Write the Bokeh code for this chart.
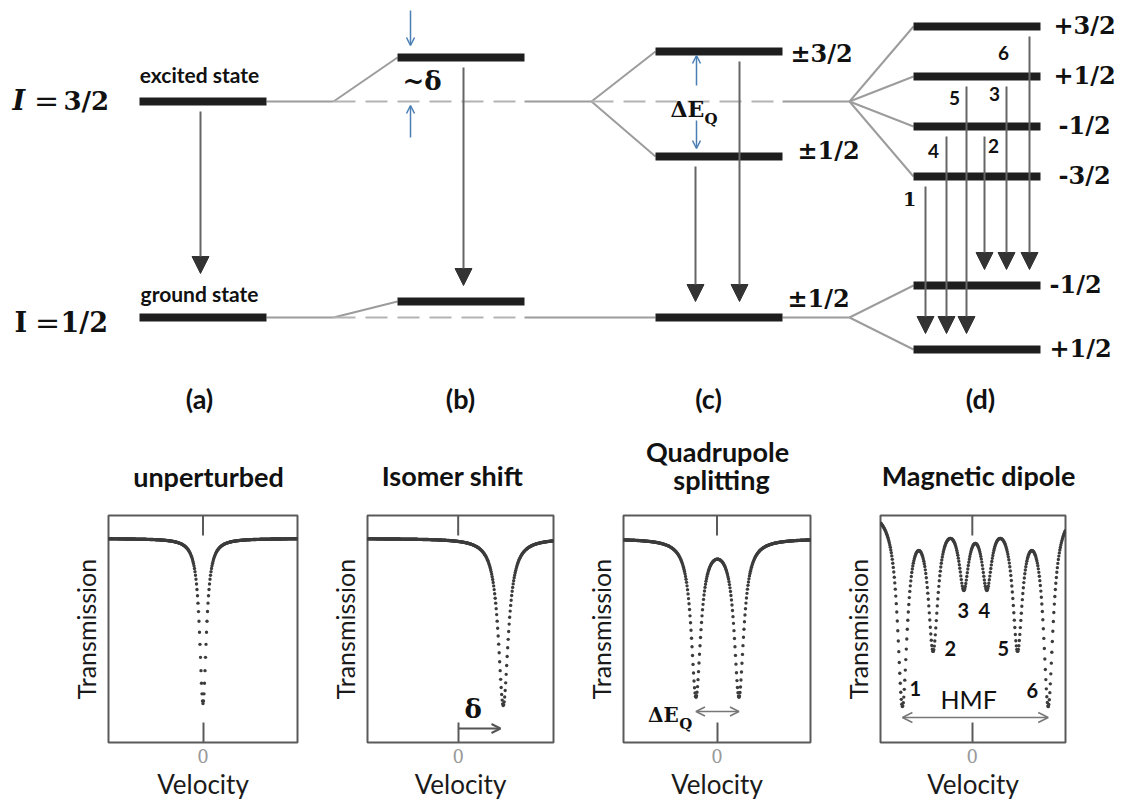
import numpy as np
from bokeh.plotting import figure
from bokeh.layouts import column, row
from bokeh.models import Range1d, Arrow, NormalHead, OpenHead, ColumnDataSource, FixedTicker
from bokeh.core.properties import value
from bokeh.embed import file_html
from bokeh.resources import INLINE

# ---------------- energy levels (diagram units, unsplit ground state = 0) ----------------
E_GROUND = 0
E_EXCITED = 216
isomer_shift_excited = 44
isomer_shift_ground = 16
quad_excited = [50, -55]                 # m = ±3/2, ±1/2
quad_labels = ["±3/2", "±1/2"]
zeeman_excited = [75, 25, -25, -75]      # m = +3/2, +1/2, -1/2, -3/2
zeeman_excited_labels = ["+3/2", "+1/2", "-1/2", "-3/2"]
zeeman_ground = [32, -32]                # m = -1/2, +1/2
zeeman_ground_labels = ["-1/2", "+1/2"]

# magnetic transitions: line number, upper sublevel index, lower sublevel index
mag_lines = ["1", "4", "5", "2", "3", "6"]
mag_upper = [3, 2, 1, 2, 1, 0]
mag_lower = [1, 1, 1, 0, 0, 0]

# ---------------- Mössbauer spectra: line centre (mm/s), depth, FWHM (mm/s) ----------------
single_pos, single_depth, single_fwhm = [0.0], [0.165], [0.34]
isomer_pos, isomer_depth, isomer_fwhm = [1.94], [0.167], [0.52]
quad_pos, quad_depth, quad_fwhm = [-0.90, 0.94], [0.156, 0.156], [0.49, 0.49]
sextet_pos = [-5.10, -2.86, -0.62, 1.06, 3.30, 5.54]
sextet_depth = [0.193, 0.133, 0.070, 0.070, 0.133, 0.193]
sextet_fwhm = [0.85] * 6

panel_titles = ["unperturbed", "Isomer shift", "Quadrupole\nsplitting", "Magnetic dipole"]
column_tags = ["(a)", "(b)", "(c)", "(d)"]

# ---------------- styles ----------------
BAR = "#1e1e1e"
CONN = "#9c9c9c"
DASH = "#b4b4b4"
ARROW_LINE = "#666666"
HEAD = "#333333"
BLUE = "#4a7fb5"
SANS = "Lato"
SERIF = "DejaVu Serif"


def put_text(fig, xs, ys, texts, font=SANS, size="20px", style="bold",
             align="center", baseline="middle", color="#111111"):
    fig.text(x=xs, y=ys, text=texts, text_font=value(font), text_font_size=value(size),
             text_font_style=value(style), text_align=value(align),
             text_baseline=value(baseline), text_color=color)


# ======================= energy level diagram =======================
top = figure(width=1121, height=500, x_range=Range1d(0, 1121), y_range=Range1d(-183, 317),
             output_backend="svg", toolbar_location=None, x_axis_location=None,
             y_axis_location=None, min_border=0, outline_line_color=None)
top.grid.visible = False

COL_LEFT = [139, 397, 655, 913]
BAR_W = 127
FAN = 67
col_right = [c + BAR_W for c in COL_LEFT]
split = [r + FAN for r in col_right[:3]]        # fan-out points before columns b, c, d

# level bars
bx0, bx1, by = [], [], []
def add_bar(col, e):
    bx0.append(COL_LEFT[col]); bx1.append(col_right[col]); by.append(e)

add_bar(0, E_EXCITED); add_bar(0, E_GROUND)
add_bar(1, E_EXCITED + isomer_shift_excited); add_bar(1, E_GROUND + isomer_shift_ground)
for q in quad_excited:
    add_bar(2, E_EXCITED + q)
add_bar(2, E_GROUND)
for z in zeeman_excited:
    add_bar(3, E_EXCITED + z)
for z in zeeman_ground:
    add_bar(3, E_GROUND + z)

# thin connectors (solid)
cx0, cy0, cx1, cy1 = [], [], [], []
def conn(x0, y0, x1, y1):
    cx0.append(x0); cy0.append(y0); cx1.append(x1); cy1.append(y1)

for e in (E_EXCITED, E_GROUND):
    conn(col_right[0], e, split[0], e)
conn(split[0], E_EXCITED, COL_LEFT[1], E_EXCITED + isomer_shift_excited)
conn(split[0], E_GROUND, COL_LEFT[1], E_GROUND + isomer_shift_ground)
conn(col_right[1], E_EXCITED, split[1], E_EXCITED)
for q in quad_excited:
    conn(split[1], E_EXCITED, COL_LEFT[2], E_EXCITED + q)
conn(col_right[1], E_GROUND, COL_LEFT[2], E_GROUND)
for e in (E_EXCITED, E_GROUND):
    conn(col_right[2], e, split[2], e)
for z in zeeman_excited:
    conn(split[2], E_EXCITED, COL_LEFT[3], E_EXCITED + z)
for z in zeeman_ground:
    conn(split[2], E_GROUND, COL_LEFT[3], E_GROUND + z)

top.segment(x0=cx0, y0=cy0, x1=cx1, y1=cy1, line_color=CONN, line_width=2)
# dashed references to the unperturbed levels
top.segment(x0=[split[0], split[0], split[1]], y0=[E_EXCITED, E_GROUND, E_EXCITED],
            x1=[col_right[1], col_right[1], col_right[2]], y1=[E_EXCITED, E_GROUND, E_EXCITED],
            line_color=DASH, line_width=2, line_dash="22 10")
top.segment(x0=bx0, y0=by, x1=bx1, y1=by, line_color=BAR, line_width=8)

# gamma transitions
START_GAP, TIP_GAP = 10, 16
ax, ay0, ay1 = [], [], []
def transition(x, upper, lower, tip_gap=TIP_GAP):
    ax.append(x); ay0.append(upper - START_GAP); ay1.append(lower + tip_gap)

transition(COL_LEFT[0] + 61, E_EXCITED, E_GROUND, tip_gap=44)
transition(COL_LEFT[1] + 66, E_EXCITED + isomer_shift_excited, E_GROUND + isomer_shift_ground)
transition(COL_LEFT[2] + 40, E_EXCITED + quad_excited[1], E_GROUND)
transition(COL_LEFT[2] + 84, E_EXCITED + quad_excited[0], E_GROUND)
mag_x = [COL_LEFT[3] + d for d in (12, 33, 53, 71, 93, 116)]
for x, u, l in zip(mag_x, mag_upper, mag_lower):
    transition(x, E_EXCITED + zeeman_excited[u], E_GROUND + zeeman_ground[l])

top.add_layout(Arrow(end=NormalHead(size=17, fill_color=HEAD, line_color=HEAD),
                     source=ColumnDataSource(dict(x0=ax, y0=ay0, x1=ax, y1=ay1)),
                     x_start="x0", y_start="y0", x_end="x1", y_end="y1",
                     line_color=ARROW_LINE, line_width=2))

# blue markers for the isomer shift and the quadrupole splitting
eb = E_EXCITED + isomer_shift_excited
blue = dict(x0=[410, 410, 696, 696],
            y0=[eb + 47, E_EXCITED - 36, E_EXCITED + 16, E_EXCITED - 19],
            x1=[410, 410, 696, 696],
            y1=[eb + 12, E_EXCITED - 4, E_EXCITED + quad_excited[0] - 4, E_EXCITED + quad_excited[1] + 8])
top.add_layout(Arrow(end=OpenHead(size=8, line_color=BLUE, line_width=1.5),
                     source=ColumnDataSource(blue), x_start="x0", y_start="y0",
                     x_end="x1", y_end="y1", line_color=BLUE, line_width=1.5))

# spin labels on the left
put_text(top, [12], [E_EXCITED + 1], ["I"], font=SERIF, size="27px", style="bold italic", align="left")
put_text(top, [46], [E_EXCITED + 1], ["="], font=SERIF, size="30px", style="normal")
put_text(top, [63], [E_EXCITED + 1], ["3/2"], font=SERIF, size="26px", align="left")
put_text(top, [14], [E_GROUND - 5], ["I"], font=SERIF, size="27px", align="left")
put_text(top, [47], [E_GROUND - 5], ["="], font=SERIF, size="30px", style="normal")
put_text(top, [60], [E_GROUND - 5], ["1/2"], font=SERIF, size="27px", align="left")
put_text(top, [199], [E_EXCITED + 27], ["excited state"], size="21px")
put_text(top, [199], [E_GROUND + 24], ["ground state"], size="21px")

# isomer shift and quadrupole symbols
put_text(top, [402], [E_EXCITED + 21], ["~δ"], font=SERIF, size="26px", align="left")
put_text(top, [670], [E_EXCITED - 7], ["ΔE"], font=SERIF, size="22px", align="left")
put_text(top, [704], [E_EXCITED - 17], ["Q"], font=SERIF, size="15px", align="left")

# sublevel labels
put_text(top, [790, 797], [E_EXCITED + quad_excited[0] - 2, E_EXCITED + quad_excited[1] + 6],
         quad_labels, font=SERIF, size="24px", align="left")
put_text(top, [787], [E_GROUND + 19], ["±1/2"], font=SERIF, size="24px", align="left")
put_text(top, [1053, 1053, 1058, 1058], [E_EXCITED + z + 1 for z in zeeman_excited],
         zeeman_excited_labels, font=SERIF, size="24px", align="left")
put_text(top, [1049, 1049], [E_GROUND + z + 1 for z in zeeman_ground],
         zeeman_ground_labels, font=SERIF, size="24px", align="left")

# line numbers next to the magnetic transitions
num_dx = [-16, -13, -12, 9, -12, -26]
num_dy = [-22, -24, -21, -19, -17, -26]
for lab, x, u, dx, dy in zip(mag_lines, mag_x, mag_upper, num_dx, num_dy):
    put_text(top, [x + dx], [E_EXCITED + zeeman_excited[u] + dy], [lab], size="19px",
             font=SERIF if lab == "1" else SANS)

# column tags and spectrum titles
put_text(top, [199, 460, 708, 980], [-81] * 4, column_tags, size="27px")
put_text(top, [208, 452, 978], [-159, -158, -158],
         [panel_titles[0], panel_titles[1], panel_titles[3]], size="27px")
put_text(top, [717, 721], [-134, -162], panel_titles[2].split("\n"), size="27px")


# ======================= Mössbauer spectra =======================
def transmission(v, centres, depths, fwhm):
    t = np.ones_like(v)
    for c, d, w in zip(centres, depths, fwhm):
        t = t - d / (1.0 + ((v - c) / (w / 2.0)) ** 2)
    return t


def spectrum_panel(xr, yr, width, left, right, pos, depth, fwhm, px_per_unit):
    f = figure(width=width, height=305, x_range=Range1d(*xr), y_range=Range1d(*yr),
               output_backend="svg", toolbar_location=None,
               min_border_left=left, min_border_right=right, min_border_top=15,
               min_border_bottom=63, outline_line_color="#5a5a5a", outline_line_width=2)
    f.grid.visible = False
    xa = f.xaxis[0]
    xa.ticker = FixedTicker(ticks=[0])
    xa.major_tick_in = 20
    xa.major_tick_out = 0
    xa.minor_tick_line_color = None
    xa.axis_line_color = None
    xa.major_tick_line_color = "#5a5a5a"
    xa.major_tick_line_width = 2
    xa.major_label_text_color = "#9a9a9a"
    xa.major_label_text_font = SERIF
    xa.major_label_text_font_size = "18px"
    xa.major_label_standoff = 6
    xa.axis_label = "Velocity"
    xa.axis_label_text_font = SANS
    xa.axis_label_text_font_size = "26px"
    xa.axis_label_text_font_style = "normal"
    xa.axis_label_text_color = "#1a1a1a"
    xa.axis_label_standoff = 2
    ya = f.yaxis[0]
    ya.ticker = FixedTicker(ticks=[])
    ya.axis_line_color = None
    ya.major_tick_line_color = None
    ya.minor_tick_line_color = None
    ya.axis_label = "Transmission"
    ya.axis_label_text_font = SANS
    ya.axis_label_text_font_size = "25px"
    ya.axis_label_text_font_style = "normal"
    ya.axis_label_text_color = "#1a1a1a"
    ya.axis_label_standoff = 8
    # zero-velocity tick on the top edge
    f.segment(x0=[0], y0=[yr[1]], x1=[0], y1=[yr[1] - 0.02], line_color="#5a5a5a", line_width=2)
    step = 0.5 / px_per_unit
    n = int(round((xr[1] - xr[0]) / step))
    v = xr[0] + step * np.arange(n + 1)
    v = v - (v[np.argmin(np.abs(v))])      # keep a sample exactly at zero velocity
    v = v[(v >= xr[0]) & (v <= xr[1])]
    f.scatter(v, transmission(v, pos, depth, fwhm), size=3.4, fill_color="#3c3c3c",
              line_color=None)
    return f


YR = (0.796, 1.023)
f1 = spectrum_panel((-4.0, 4.0), YR, 301, 108, 4, single_pos, single_depth, single_fwhm, 23.6)
f2 = spectrum_panel((-3.9, 4.1), YR, 256, 66, 4, isomer_pos, isomer_depth, isomer_fwhm, 23.25)
f3 = spectrum_panel((-4.0, 4.0), YR, 257, 66, 4, quad_pos, quad_depth, quad_fwhm, 23.4)
f4 = spectrum_panel((-6.7, 6.8), (0.765, 0.992), 307, 66, 56, sextet_pos, sextet_depth,
                    sextet_fwhm, 13.7)

# isomer shift arrow
f2.add_layout(Arrow(end=OpenHead(size=9, line_color="#555555", line_width=2),
                    x_start=0, y_start=0.81, x_end=isomer_pos[0] - 0.12, y_end=0.81,
                    line_color="#555555", line_width=2))
put_text(f2, [0.65], [0.830], ["δ"], font=SERIF, size="26px")

# quadrupole splitting arrow
f3.add_layout(Arrow(start=OpenHead(size=9, line_color="#777777", line_width=1.5),
                    end=OpenHead(size=9, line_color="#777777", line_width=1.5),
                    x_start=quad_pos[0], y_start=0.827, x_end=quad_pos[1], y_end=0.827,
                    line_color="#777777", line_width=1.5))
put_text(f3, [-2.95], [0.824], ["ΔE"], font=SERIF, size="20px", align="left")
put_text(f3, [-1.62], [0.815], ["Q"], font=SERIF, size="15px", align="left")

# hyperfine field arrow and line numbers
f4.add_layout(Arrow(start=OpenHead(size=10, line_color="#777777", line_width=1.5),
                    end=OpenHead(size=10, line_color="#777777", line_width=1.5),
                    x_start=sextet_pos[0], y_start=0.790, x_end=sextet_pos[-1], y_end=0.790,
                    line_color="#777777", line_width=1.5))
put_text(f4, [-0.26], [0.809], ["HMF"], size="25px", style="normal")
put_text(f4, [-4.16, -1.6, -0.66, 0.88, 2.26, 4.38],
         [0.819, 0.859, 0.897, 0.897, 0.859, 0.817],
         ["1", "2", "3", "4", "5", "6"], size="20px")

page = column(top, row(f1, f2, f3, f4))
open("out.html", "w").write(file_html(page, INLINE))
